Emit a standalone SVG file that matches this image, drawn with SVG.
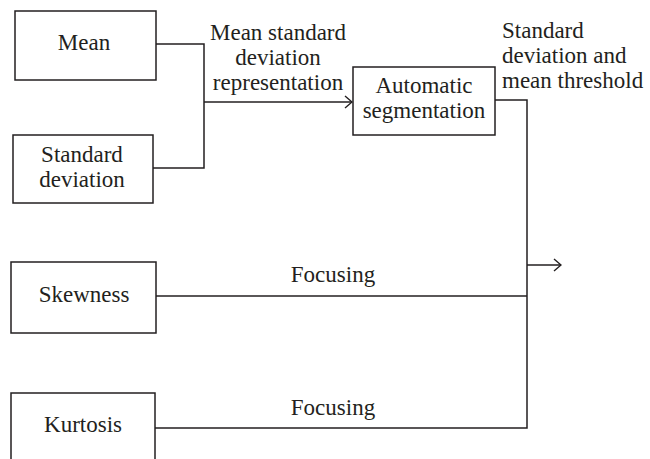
<svg xmlns="http://www.w3.org/2000/svg" width="650" height="459" viewBox="0 0 650 459">
<defs>
<style>
.box{fill:#fff;stroke:#231f20;stroke-width:1.5}
.t{font-family:"Liberation Serif","Times New Roman",serif;font-size:23px;fill:#231f20}
.c{text-anchor:middle}
.ln{fill:none;stroke:#231f20;stroke-width:1.5}
</style>
<marker id="arr" markerWidth="12" markerHeight="14" refX="11" refY="7" orient="auto" markerUnits="userSpaceOnUse">
<path d="M4,1 L11,7 L4,13" fill="none" stroke="#231f20" stroke-width="1.4"/>
</marker>
</defs>
<rect width="650" height="459" fill="#fff"/>
<g id="connectors">
<polyline class="ln" points="156,44 204,44 204,168 153,168"/>
<line class="ln" x1="204" y1="102" x2="352" y2="102" marker-end="url(#arr)"/>
<polyline class="ln" points="495,100 527,100 527,428 155,428"/>
<line class="ln" x1="156" y1="296" x2="527" y2="296"/>
<line class="ln" x1="527" y1="265" x2="561" y2="265" marker-end="url(#arr)"/>
<text class="t c" x="278" y="40">Mean standard</text>
<text class="t c" x="278" y="65">deviation</text>
<text class="t c" x="278" y="90">representation</text>
<text class="t" x="502" y="38">Standard</text>
<text class="t" x="502" y="63">deviation and</text>
<text class="t" x="502" y="88">mean threshold</text>
<text class="t c" x="333" y="282">Focusing</text>
<text class="t c" x="333" y="415">Focusing</text>
</g>
<g id="mean">
<rect class="box" x="15" y="11" width="141" height="69"/>
<text class="t c" x="84" y="50">Mean</text>
</g>
<g id="std">
<rect class="box" x="13" y="135" width="140" height="68"/>
<text class="t c" x="82" y="162">Standard</text>
<text class="t c" x="82" y="187">deviation</text>
</g>
<g id="auto">
<rect class="box" x="353" y="67" width="142" height="68"/>
<text class="t c" x="424" y="93">Automatic</text>
<text class="t c" x="424" y="118">segmentation</text>
</g>
<g id="skewness">
<rect class="box" x="11" y="262" width="145" height="71"/>
<text class="t c" x="84" y="302">Skewness</text>
</g>
<g id="kurtosis">
<rect class="box" x="11" y="393" width="144" height="80"/>
<text class="t c" x="83" y="432">Kurtosis</text>
</g>
</svg>
